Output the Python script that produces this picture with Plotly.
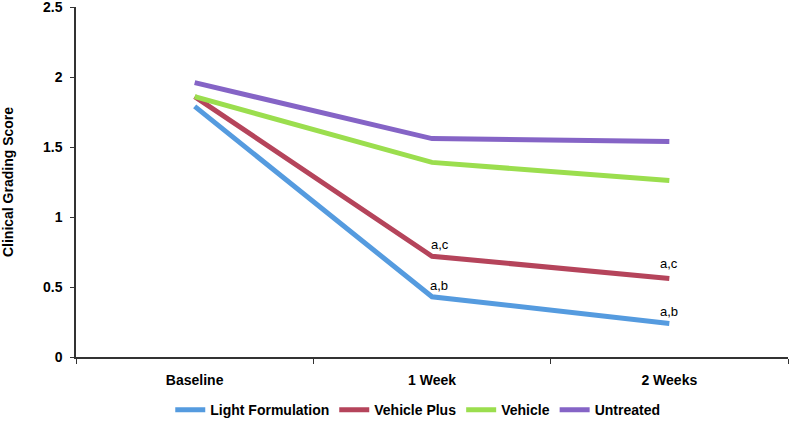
import plotly.graph_objects as go

categories = ["Baseline", "1 Week", "2 Weeks"]
light_formulation = [1.79, 0.43, 0.24]
vehicle_plus = [1.86, 0.72, 0.56]
vehicle = [1.86, 1.39, 1.26]
untreated = [1.96, 1.56, 1.54]
series_names = ["Light Formulation", "Vehicle Plus", "Vehicle", "Untreated"]
colors = ["#559BDF", "#B5445B", "#9BDE4E", "#8564C6"]
sig_labels_vp = ["", "a,c", "a,c"]
sig_labels_lf = ["", "a,b", "a,b"]
y_tickvals = [0, 0.5, 1, 1.5, 2, 2.5]
y_ticktext = ["0", "0.5", "1", "1.5", "2", "2.5"]

FAM = "Liberation Sans, Arial, sans-serif"

fig = go.Figure()
for name, vals, col in zip(series_names, [light_formulation, vehicle_plus, vehicle, untreated], colors):
    fig.add_trace(go.Scatter(x=categories, y=vals, mode="lines", name=name,
                             line=dict(color=col, width=5)))

vp_shift = {1: (8, 12), 2: (0, 15)}
lf_shift = {1: (7, 11), 2: (0, 12)}
for i, c in enumerate(categories):
    if sig_labels_vp[i]:
        xs, ys = vp_shift[i]
        fig.add_annotation(x=c, y=vehicle_plus[i], text=sig_labels_vp[i], showarrow=False,
                           yshift=ys, xshift=xs, font=dict(family=FAM, size=13, color="black"))
    if sig_labels_lf[i]:
        xs, ys = lf_shift[i]
        fig.add_annotation(x=c, y=light_formulation[i], text=sig_labels_lf[i], showarrow=False,
                           yshift=ys, xshift=xs, font=dict(family=FAM, size=13, color="black"))

bold14 = dict(family=FAM, size=14, color="black", weight="bold")

fig.update_layout(
    width=790, height=423,
    margin=dict(l=76, r=2, t=7, b=66, autoexpand=False),
    paper_bgcolor="white", plot_bgcolor="white",
    font=dict(family=FAM, size=13, color="black"),
    showlegend=True,
    legend=dict(orientation="h", x=0.48, xanchor="center", y=-0.152, yanchor="middle",
                font=bold14, itemwidth=30, tracegroupgap=0),
)
fig.update_xaxes(
    type="category", range=[-0.5, 2.5], showgrid=False, showline=True, linecolor="#333",
    linewidth=1.5, ticks="outside", tickson="boundaries", ticklen=5, tickcolor="#333",
    tickfont=bold14, ticklabelstandoff=9, automargin=False,
)
fig.update_yaxes(
    range=[0, 2.5], tickvals=y_tickvals, ticktext=y_ticktext,
    showgrid=False, zeroline=False, showline=True, linecolor="#333", linewidth=1.5,
    ticks="outside", ticklen=4, tickcolor="#333", tickfont=bold14,
    ticklabelstandoff=5, ticklabeloverflow="allow",
    title=dict(text="Clinical Grading Score", standoff=26, font=bold14),
    automargin=False,
)

fig.write_html("out.html", config={"displayModeBar": False},
               post_script="document.body.style.margin='0';")
